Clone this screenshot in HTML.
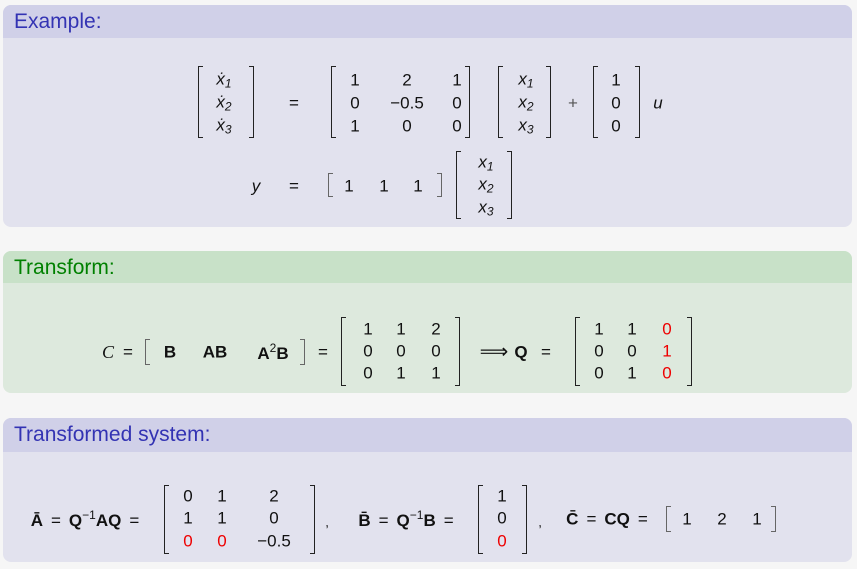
<!DOCTYPE html>
<html><head><meta charset="utf-8"><style>
body{margin:0;width:857px;height:569px;background:#f6f6f6;position:relative;overflow:hidden;font-family:"Liberation Sans",sans-serif}
.blk{position:absolute;left:3px;width:849px;border-radius:8px;overflow:hidden}
.hd{height:33px;font-size:21px;line-height:33px;padding-left:11px}
.t{position:absolute;transform:translate(-50%,-50%);font-size:17px;white-space:nowrap;color:#111;line-height:1}
.i{font-style:italic}
.b{font-weight:bold}
.r{color:#e00}
.e{margin:0 8px;font-weight:normal}
.bl,.br{position:absolute;border:1.5px solid #222;width:5px;box-sizing:border-box}
.bl{border-right:none}.br{border-left:none}
.g{border-color:#666;border-width:1px}
sub{font-size:12px;vertical-align:-3px}
sup{font-size:12px;vertical-align:7px;font-weight:normal}
</style></head><body>
<div class="blk" style="top:5px;height:222px;background:#e2e2ee"><div class="hd" style="background:#d0d0e8;color:#3333b3">Example:</div></div>
<div class="blk" style="top:251px;height:142px;background:#dde9dd"><div class="hd" style="background:#c8e1c8;color:#008000;height:32px">Transform:</div></div>
<div class="blk" style="top:418px;height:144px;background:#e2e2ee"><div class="hd" style="background:#d0d0e8;color:#3333b3;height:34px">Transformed system:</div></div>

<!-- Block 1 row 1 -->
<div class="bl" style="left:198px;top:66px;height:72px"></div><div class="br" style="left:249px;top:66px;height:72px"></div>
<div class="t i" style="left:224px;top:80px">ẋ<sub>1</sub></div>
<div class="t i" style="left:224px;top:103px">ẋ<sub>2</sub></div>
<div class="t i" style="left:224px;top:126px">ẋ<sub>3</sub></div>
<div class="t" style="left:294px;top:103px">=</div>
<div class="bl" style="left:331px;top:66px;height:72px"></div><div class="br" style="left:465px;top:66px;height:72px"></div>
<div class="t" style="left:355px;top:80px">1</div><div class="t" style="left:407px;top:80px">2</div><div class="t" style="left:457px;top:80px">1</div>
<div class="t" style="left:355px;top:103px">0</div><div class="t" style="left:407px;top:103px">−0.5</div><div class="t" style="left:457px;top:103px">0</div>
<div class="t" style="left:355px;top:126px">1</div><div class="t" style="left:407px;top:126px">0</div><div class="t" style="left:457px;top:126px">0</div>
<div class="bl" style="left:498px;top:66px;height:72px"></div><div class="br" style="left:546px;top:66px;height:72px"></div>
<div class="t i" style="left:526px;top:80px">x<sub>1</sub></div>
<div class="t i" style="left:526px;top:103px">x<sub>2</sub></div>
<div class="t i" style="left:526px;top:126px">x<sub>3</sub></div>
<div class="t" style="left:573px;top:103px;color:#555">+</div>
<div class="bl" style="left:593px;top:66px;height:72px"></div><div class="br" style="left:635px;top:66px;height:72px"></div>
<div class="t" style="left:616px;top:80px">1</div><div class="t" style="left:616px;top:103px">0</div><div class="t" style="left:616px;top:126px">0</div>
<div class="t i" style="left:658px;top:103px">u</div>
<!-- Block 1 row 2 -->
<div class="t i" style="left:256px;top:186px">y</div>
<div class="t" style="left:294px;top:186px">=</div>
<div class="bl g" style="left:328px;top:173px;height:24px"></div><div class="br g" style="left:437px;top:173px;height:24px"></div>
<div class="t" style="left:349px;top:186px">1</div><div class="t" style="left:384px;top:186px">1</div><div class="t" style="left:418px;top:186px">1</div>
<div class="bl" style="left:456px;top:151px;height:68px"></div><div class="br" style="left:507px;top:151px;height:68px"></div>
<div class="t i" style="left:486px;top:163px">x<sub>1</sub></div>
<div class="t i" style="left:486px;top:185px">x<sub>2</sub></div>
<div class="t i" style="left:486px;top:208px">x<sub>3</sub></div>

<!-- Block 2 -->
<div class="t" style="left:108px;top:352px;font-family:'Liberation Serif',serif;font-style:italic;font-size:18px">C</div>
<div class="t" style="left:128px;top:352px">=</div>
<div class="bl g" style="left:145px;top:339px;height:26px"></div>
<div class="t b" style="left:170px;top:352px">B</div>
<div class="t b" style="left:215px;top:352px">AB</div>
<div class="t b" style="left:273px;top:352px">A<sup>2</sup>B</div>
<div class="br g" style="left:300px;top:339px;height:26px"></div>
<div class="t" style="left:323px;top:352px">=</div>
<div class="bl" style="left:341px;top:317px;height:69px"></div><div class="br" style="left:455px;top:317px;height:69px"></div>
<div class="t" style="left:368px;top:329px">1</div><div class="t" style="left:401px;top:329px">1</div><div class="t" style="left:436px;top:329px">2</div>
<div class="t" style="left:368px;top:351px">0</div><div class="t" style="left:401px;top:351px">0</div><div class="t" style="left:436px;top:351px">0</div>
<div class="t" style="left:368px;top:373px">0</div><div class="t" style="left:401px;top:373px">1</div><div class="t" style="left:436px;top:373px">1</div>
<div class="t" style="left:494px;top:352px;font-size:20px">⟹</div>
<div class="t b" style="left:521px;top:352px">Q</div>
<div class="t" style="left:546px;top:352px">=</div>
<div class="bl" style="left:575px;top:317px;height:69px"></div><div class="br" style="left:687px;top:317px;height:69px"></div>
<div class="t" style="left:599px;top:329px">1</div><div class="t" style="left:632px;top:329px">1</div><div class="t r" style="left:667px;top:329px">0</div>
<div class="t" style="left:599px;top:351px">0</div><div class="t" style="left:632px;top:351px">0</div><div class="t r" style="left:667px;top:351px">1</div>
<div class="t" style="left:599px;top:373px">0</div><div class="t" style="left:632px;top:373px">1</div><div class="t r" style="left:667px;top:373px">0</div>

<!-- Block 3 -->
<div class="t b" style="left:89px;top:519px">Ā<span class="e">=</span>Q<sup>−1</sup>AQ<span class="e">=</span></div>
<div class="bl" style="left:164px;top:485px;height:69px"></div><div class="br" style="left:310px;top:485px;height:69px"></div>
<div class="t" style="left:188px;top:496px">0</div><div class="t" style="left:222px;top:496px">1</div><div class="t" style="left:274px;top:496px">2</div>
<div class="t" style="left:188px;top:518px">1</div><div class="t" style="left:222px;top:518px">1</div><div class="t" style="left:274px;top:518px">0</div>
<div class="t r" style="left:188px;top:541px">0</div><div class="t r" style="left:222px;top:541px">0</div><div class="t" style="left:274px;top:541px">−0.5</div>
<div class="t" style="left:327px;top:522px;font-size:13px">,</div>
<div class="t b" style="left:410px;top:519px">B̄<span class="e">=</span>Q<sup>−1</sup>B<span class="e">=</span></div>
<div class="bl" style="left:478px;top:485px;height:69px"></div><div class="br" style="left:522px;top:485px;height:69px"></div>
<div class="t" style="left:502px;top:496px">1</div><div class="t" style="left:502px;top:518px">0</div><div class="t r" style="left:502px;top:541px">0</div>
<div class="t" style="left:540px;top:522px;font-size:13px">,</div>
<div class="t b" style="left:611px;top:519px">C̄<span class="e">=</span>CQ<span class="e">=</span></div>
<div class="bl g" style="left:666px;top:506px;height:26px"></div><div class="br g" style="left:771px;top:506px;height:26px"></div>
<div class="t" style="left:687px;top:519px">1</div><div class="t" style="left:722px;top:519px">2</div><div class="t" style="left:757px;top:519px">1</div>
</body></html>
